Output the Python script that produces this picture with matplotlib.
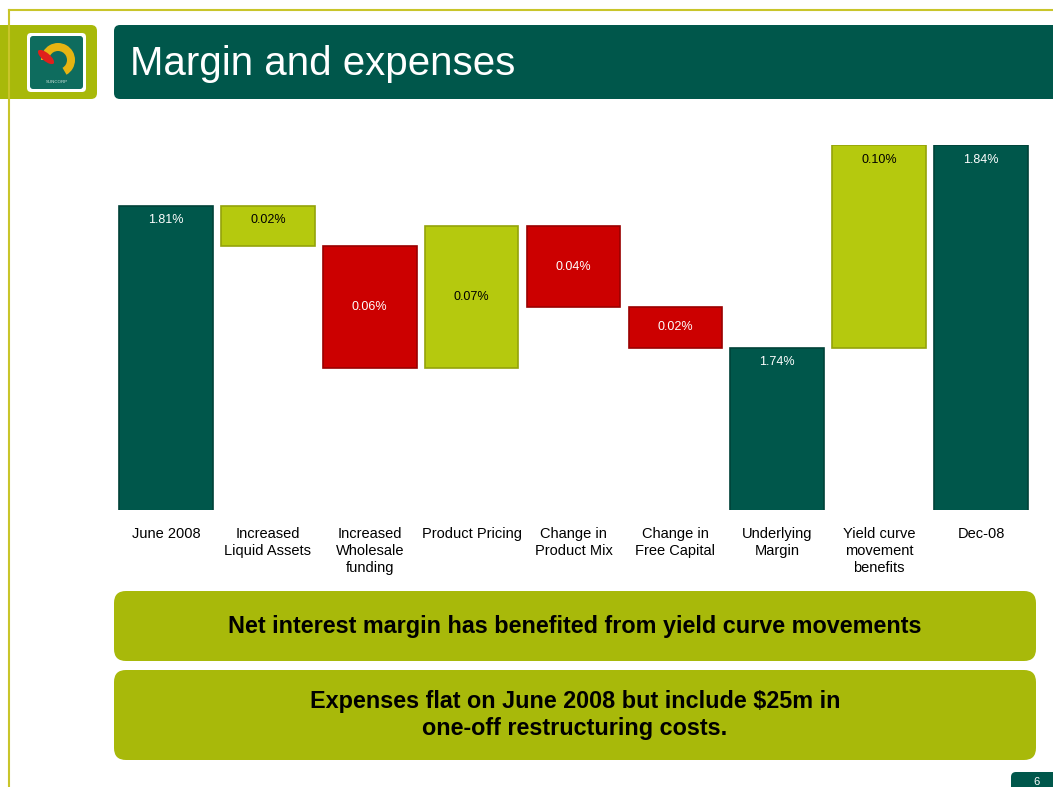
import numpy as np
import matplotlib
matplotlib.use('Agg')
import matplotlib.pyplot as plt
from matplotlib.patches import FancyBboxPatch, Wedge, Ellipse

plt.rcParams['font.family'] = ['Liberation Sans', 'DejaVu Sans']

# data
categories = ['June 2008', 'Increased\nLiquid Assets', 'Increased\nWholesale\nfunding',
              'Product Pricing', 'Change in\nProduct Mix', 'Change in\nFree Capital',
              'Underlying\nMargin', 'Yield curve\nmovement\nbenefits', 'Dec-08']
values = [1.81, -0.02, -0.06, 0.07, -0.04, -0.02, 1.74, 0.10, 1.84]
kinds = ['total', 'increase', 'decrease', 'increase', 'decrease', 'decrease',
         'total', 'increase', 'total']
value_labels = ['1.81%', '0.02%', '0.06%', '0.07%', '0.04%', '0.02%', '1.74%', '0.10%', '1.84%']
label_anchor = ['top', 'top', 'mid', 'mid', 'mid', 'mid', 'top', 'top', 'top']
y_range = (1.66, 1.84)

title = 'Margin and expenses'
note1 = 'Net interest margin has benefited from yield curve movements'
note2 = 'Expenses flat on June 2008 but include $25m in\none-off restructuring costs.'

DARK = '#00574b'
LIME = '#b5c90e'
OLIVE = '#a8b90a'
RED = '#cc0000'
face = {'total': DARK, 'increase': LIME, 'decrease': RED}
edge = {'total': '#004238', 'increase': '#94a30a', 'decrease': '#9a0000'}
txt = {'total': 'white', 'increase': 'black', 'decrease': 'white'}

W, H = 1053, 787
fig = plt.figure(figsize=(W / 100, H / 100), dpi=100)

# slide decoration in pixel coordinates
bg = fig.add_axes([0, 0, 1, 1])
bg.set_xlim(0, W)
bg.set_ylim(H, 0)
bg.axis('off')

bg.plot([9, 9], [10, H], color='#c9c52a', lw=1.5)
bg.plot([9, W], [10, 10], color='#c9c52a', lw=1.5)

bg.add_patch(FancyBboxPatch((-10, 25), 107, 74, boxstyle='round,pad=0,rounding_size=6',
                            fc=OLIVE, ec='none'))
bg.add_patch(FancyBboxPatch((114, 25), 960, 74, boxstyle='round,pad=0,rounding_size=6',
                            fc=DARK, ec='none'))
bg.text(130, 64, title, color='white', fontsize=29, va='center', ha='left')

# logo
bg.add_patch(FancyBboxPatch((27, 33), 59, 59, boxstyle='round,pad=0,rounding_size=4',
                            fc='white', ec='none'))
bg.add_patch(FancyBboxPatch((30, 36), 53, 53, boxstyle='round,pad=0,rounding_size=3',
                            fc='#0e6c5e', ec='none'))
bg.add_patch(Wedge((58, 60), 17, -180, 60, width=8, fc='#e6b412', ec='none'))
bg.add_patch(Ellipse((46, 57), 20, 8, angle=40, fc='#e0201c', ec='none'))
bg.text(57, 82, 'SUNCORP', color='#cfe3dc', fontsize=3.2, ha='center', va='center')

# notes
bg.add_patch(FancyBboxPatch((114, 591), 922, 70, boxstyle='round,pad=0,rounding_size=12',
                            fc=OLIVE, ec='none'))
bg.text(575, 627, note1, fontsize=16.8, fontweight='bold', ha='center', va='center')
bg.add_patch(FancyBboxPatch((114, 670), 922, 90, boxstyle='round,pad=0,rounding_size=12',
                            fc=OLIVE, ec='none'))
bg.text(575, 715, note2, fontsize=16.8, fontweight='bold', ha='center', va='center',
        linespacing=1.2)

# page number
bg.add_patch(FancyBboxPatch((1011, 772), 60, 30, boxstyle='round,pad=0,rounding_size=5',
                            fc=DARK, ec='none'))
bg.text(1036, 782, '6', color='white', fontsize=8, ha='center', va='center')

# waterfall chart
ax = fig.add_axes([115 / W, 1 - 510 / H, 917 / W, 365 / H])
x = np.arange(len(categories))
level = 0.0
for i, (v, k) in enumerate(zip(values, kinds)):
    if k == 'total':
        bottom, height = 0.0, v
        level = v
    else:
        bottom, height = level, v
        level += v
    ax.bar(x[i], height, bottom=bottom, width=0.92, color=face[k],
           edgecolor=edge[k], linewidth=1.2)
    top = max(bottom, bottom + height)
    low = min(bottom, bottom + height)
    if label_anchor[i] == 'top':
        ty = top - 0.0072
    else:
        ty = (top + max(low, y_range[0])) / 2
    ax.text(x[i], ty, value_labels[i], color=txt[k], fontsize=9,
            ha='center', va='center')

ax.set_xlim(-0.5, len(categories) - 0.5)
ax.set_ylim(*y_range)
ax.set_xticks(x, categories, fontsize=10.5, linespacing=1.3)
ax.tick_params(axis='x', length=0, pad=12)
ax.set_yticks([])
for s in ax.spines.values():
    s.set_visible(False)
ax.patch.set_alpha(0)

fig.savefig('out.png', dpi=100)
